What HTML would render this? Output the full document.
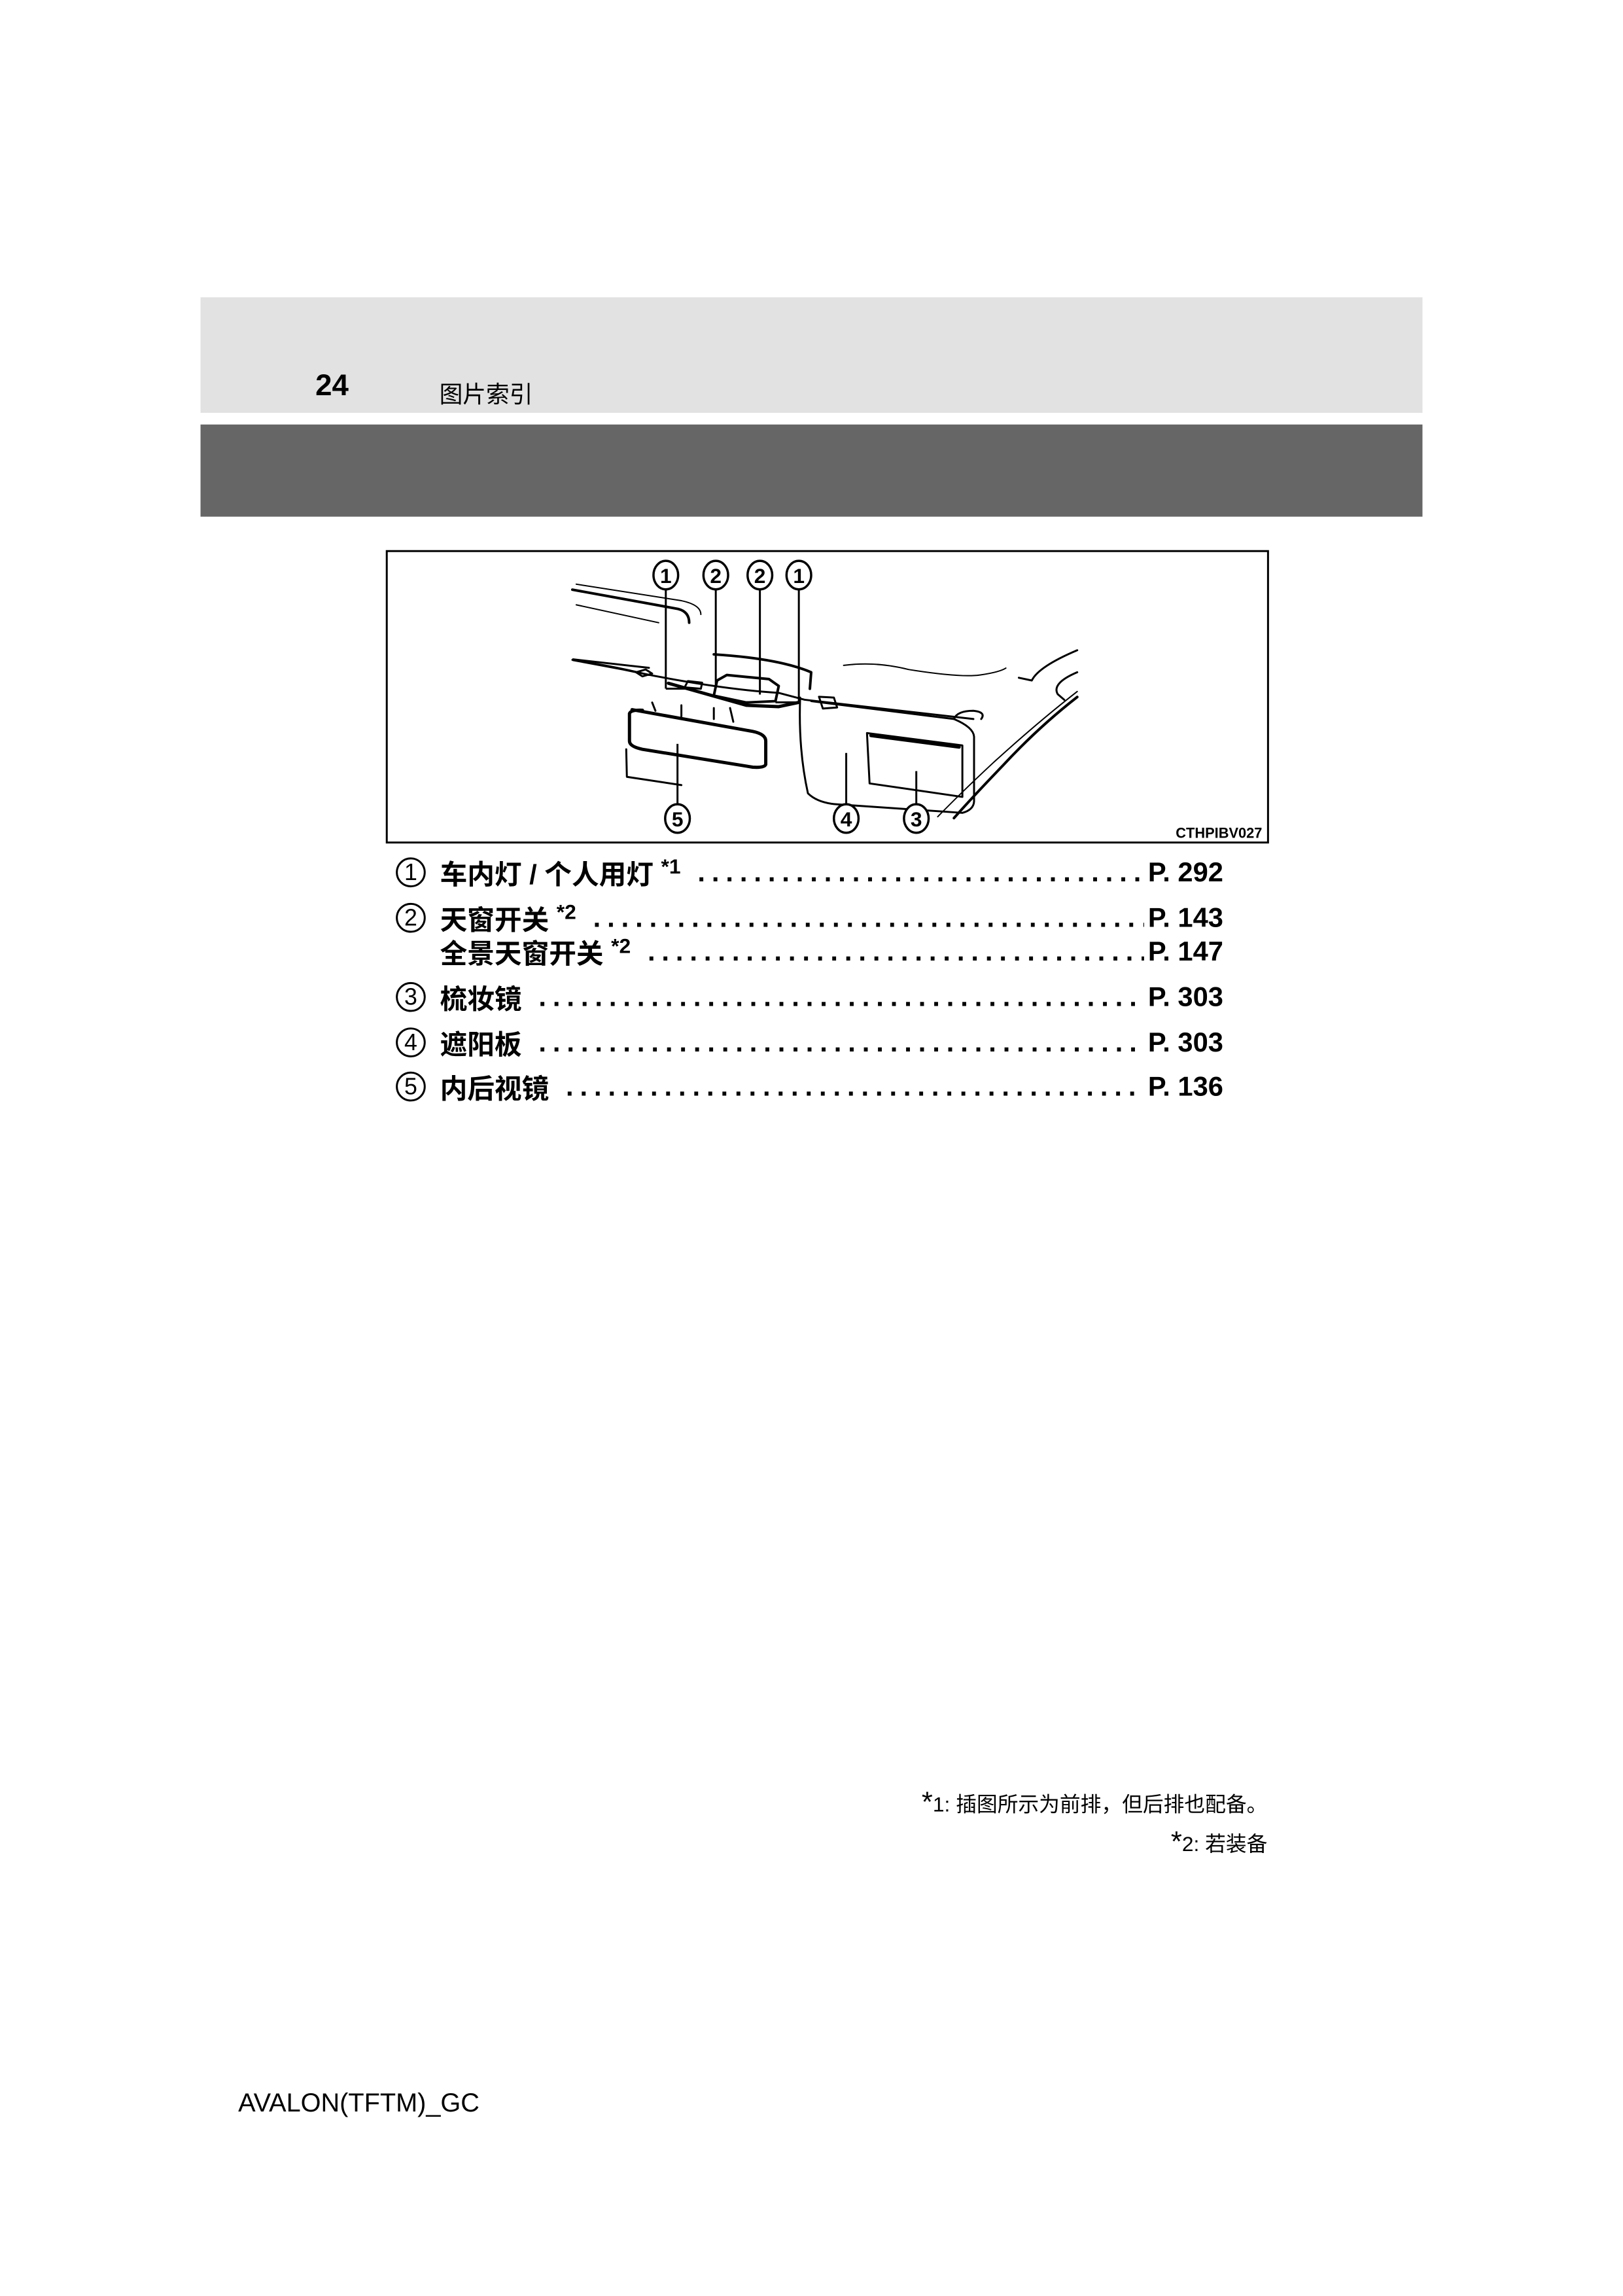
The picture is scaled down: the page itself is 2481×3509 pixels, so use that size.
<!DOCTYPE html>
<html><head><meta charset="utf-8"><style>
body{margin:0;width:2481px;height:3509px;background:#fff;position:relative;overflow:hidden;font-family:"Liberation Sans","Noto Sans CJK SC",sans-serif;color:#000}
#w{position:absolute;left:0;top:0;width:2481px;height:3509px;transform:scale(0.992);transform-origin:0 0}
.a{position:absolute;white-space:nowrap}
.row{position:absolute;left:610px;width:1275px;height:60px;font-size:42px;font-weight:bold;display:flex;align-items:center}
.c{width:46px;height:46px;border:3px solid #000;border-radius:50%;font-size:36px;font-weight:normal;display:flex;align-items:center;justify-content:center;box-sizing:border-box;margin-right:22px;flex:none}
.t{flex:none}
.d{flex:1;overflow:hidden;margin:0 6px 0 26px;letter-spacing:10px;font-weight:bold}
.p{flex:none}
sup{font-size:32px;vertical-align:16px}
</style></head><body><div id="w">
<div class="a" style="left:309px;top:458px;width:1883px;height:178px;background:#e2e2e2"></div>
<div class="a" style="left:309px;top:654px;width:1883px;height:142px;background:#666"></div>
<div class="a" style="left:486px;top:566px;font-size:46px;font-weight:bold">24</div>
<div class="a" style="left:677px;top:579px;font-size:36px">图片索引</div>

<svg class="a" style="left:0;top:0" width="2481" height="1320" viewBox="0 0 2481 1320">
<rect x="596" y="849" width="1358" height="449" fill="none" stroke="#000" stroke-width="3"/>
<g transform="matrix(1,0,0,0.424,0,476)" fill="none" stroke="#000" stroke-width="3" stroke-linejoin="round" stroke-linecap="round">
<path vector-effect="non-scaling-stroke" d="M888 1000 L1050 1060 Q1080 1075 1080 1110" stroke-width="2"/>
<path vector-effect="non-scaling-stroke" d="M882 1020 L1045 1090 Q1062 1100 1062 1140" stroke-width="4"/>
<path vector-effect="non-scaling-stroke" d="M888 1075 L1015 1140" stroke-width="2"/>
<path vector-effect="non-scaling-stroke" d="M883 1273 L1000 1304"/>
<path vector-effect="non-scaling-stroke" d="M882 1275 Q950 1300 1000 1330"/>
<path vector-effect="non-scaling-stroke" d="M883 1276 L960 1310 Q1100 1380 1200 1395 L1240 1420 L1500 1490"/>
<path vector-effect="non-scaling-stroke" d="M1100 1255 Q1200 1270 1250 1320 L1248 1380" stroke-width="4"/>
<path vector-effect="non-scaling-stroke" d="M1300 1295 Q1350 1280 1400 1310 Q1480 1340 1510 1330 Q1540 1320 1550 1305" stroke-width="2"/>
<path vector-effect="non-scaling-stroke" d="M1660 1240 Q1600 1300 1590 1350 L1570 1340"/>
<path vector-effect="non-scaling-stroke" d="M1660 1320 Q1620 1360 1630 1400 L1640 1420"/>
<path vector-effect="non-scaling-stroke" d="M1660 1390 Q1600 1500 1530 1650 Q1480 1760 1445 1845" stroke-width="2"/>
<path vector-effect="non-scaling-stroke" d="M1660 1410 Q1600 1520 1545 1660 Q1500 1770 1470 1850" stroke-width="4"/>
<path vector-effect="non-scaling-stroke" d="M1233 1412 Q1230 1600 1245 1760 Q1260 1795 1290 1800 L1483 1831 Q1500 1820 1501 1790 L1501 1554 Q1500 1520 1470 1490 L1250 1425"/>
<path vector-effect="non-scaling-stroke" d="M1336 1541 L1483 1586 L1483 1773 L1340 1724 Z"/>
<path vector-effect="non-scaling-stroke" d="M1342 1550 L1478 1592" stroke-width="5"/>
<path vector-effect="non-scaling-stroke" d="M1262 1409 L1285 1412 L1290 1448 L1268 1452 Z"/>
<path vector-effect="non-scaling-stroke" d="M1470 1490 Q1475 1460 1500 1460 Q1520 1465 1512 1490"/>
<path vector-effect="non-scaling-stroke" d="M974 1456 L1160 1535 Q1180 1545 1180 1570 L1180 1655 Q1178 1668 1160 1665 L990 1600 Q970 1590 970 1570 L970 1470 Q972 1456 990 1458" stroke-width="5"/>
<path vector-effect="non-scaling-stroke" d="M965 1600 L966 1700 L1050 1730" stroke-width="3"/>
<path vector-effect="non-scaling-stroke" d="M1005 1430 L1010 1460 M1050 1440 L1050 1480 M1100 1450 L1100 1490 M1125 1450 L1130 1500"/>
<path vector-effect="non-scaling-stroke" d="M1120 1330 L1185 1345 L1200 1370 L1195 1425 L1150 1430 L1100 1405 L1105 1350 Z" stroke-width="4"/>
<path vector-effect="non-scaling-stroke" d="M1060 1352 L1082 1358 L1080 1380 L1055 1375 Z M980 1320 L995 1310 L1005 1325 L990 1335 Z"/>
<path vector-effect="non-scaling-stroke" d="M1030 1360 L1150 1440 L1200 1445 L1230 1430" stroke-width="5"/>
</g>
<g fill="none" stroke="#000" stroke-width="3">
<line x1="1026" y1="907" x2="1026" y2="1061"/><line x1="1026" y1="1061" x2="1060" y2="1061"/>
<line x1="1103" y1="907" x2="1103" y2="1060"/>
<line x1="1171" y1="907" x2="1171" y2="1070"/>
<line x1="1231" y1="907" x2="1231" y2="1082"/><line x1="1231" y1="1082" x2="1195" y2="1082"/>
<line x1="1044" y1="1240" x2="1044" y2="1146"/>
<line x1="1304" y1="1240" x2="1304" y2="1160"/>
<line x1="1412" y1="1240" x2="1412" y2="1188"/>
</g>
<g fill="#fff" stroke="#000" stroke-width="3.5">
<ellipse cx="1026" cy="886" rx="19" ry="22"/><ellipse cx="1103" cy="886" rx="19" ry="22"/>
<ellipse cx="1171" cy="886" rx="19" ry="22"/><ellipse cx="1231" cy="886" rx="19" ry="22"/>
<ellipse cx="1044" cy="1261" rx="19" ry="22"/><ellipse cx="1304" cy="1261" rx="19" ry="22"/>
<ellipse cx="1412" cy="1261" rx="19" ry="22"/>
</g>
<g font-family="Liberation Sans,sans-serif" font-size="32" font-weight="bold" text-anchor="middle">
<text x="1026" y="898">1</text><text x="1103" y="898">2</text><text x="1171" y="898">2</text><text x="1231" y="898">1</text>
<text x="1044" y="1273">5</text><text x="1304" y="1273">4</text><text x="1412" y="1273">3</text>
</g>
<text x="1945" y="1291" font-family="Liberation Sans,sans-serif" font-size="22" font-weight="bold" text-anchor="end">CTHPIBV027</text>
</svg>

<div class="row" style="top:1314px"><span class="c">1</span><span class="t">车内灯 / 个人用灯 <sup>*1</sup></span><span class="d">..............................................</span><span class="p">P. 292</span></div>
<div class="row" style="top:1384px"><span class="c">2</span><span class="t">天窗开关 <sup>*2</sup></span><span class="d">.............................................................</span><span class="p">P. 143</span></div>
<div class="row" style="top:1436px"><span class="c" style="visibility:hidden">2</span><span class="t">全景天窗开关 <sup>*2</sup></span><span class="d">.............................................................</span><span class="p">P. 147</span></div>
<div class="row" style="top:1506px"><span class="c">3</span><span class="t">梳妆镜</span><span class="d">.............................................................</span><span class="p">P. 303</span></div>
<div class="row" style="top:1576px"><span class="c">4</span><span class="t">遮阳板</span><span class="d">.............................................................</span><span class="p">P. 303</span></div>
<div class="row" style="top:1644px"><span class="c">5</span><span class="t">内后视镜</span><span class="d">.............................................................</span><span class="p">P. 136</span></div>

<div class="a" style="right:528px;top:2752px;font-size:32px"><span style="font-size:44px">*</span>1: 插图所示为前排，但后排也配备。</div>
<div class="a" style="right:528px;top:2813px;font-size:32px"><span style="font-size:44px">*</span>2: 若装备</div>
<div class="a" style="left:367px;top:3218px;font-size:40px">AVALON(TFTM)_GC</div>
</div></body></html>
